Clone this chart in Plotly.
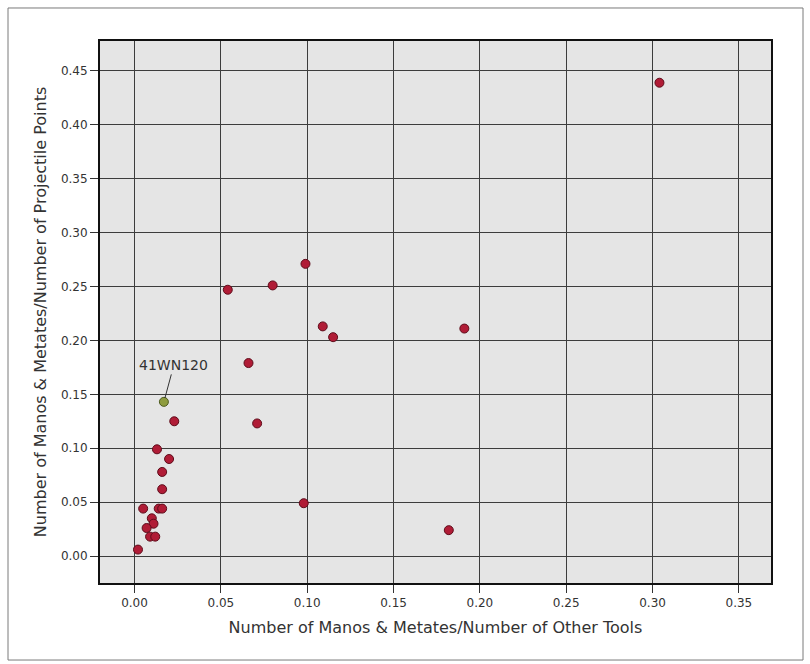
import plotly.graph_objects as go

# Ratios per site: manos & metates / other tools (x) vs / projectile points (y)
other_tools_ratio = [
    0.304, 0.099, 0.054, 0.080, 0.109, 0.115, 0.191, 0.066, 0.071,
    0.098, 0.182, 0.023, 0.013, 0.020, 0.016, 0.016, 0.005, 0.014,
    0.016, 0.010, 0.011, 0.007, 0.009, 0.012, 0.002,
]
projectile_ratio = [
    0.439, 0.271, 0.247, 0.251, 0.213, 0.203, 0.211, 0.179, 0.123,
    0.049, 0.024, 0.125, 0.099, 0.090, 0.078, 0.062, 0.044, 0.044,
    0.044, 0.035, 0.030, 0.026, 0.018, 0.018, 0.006,
]

# Highlighted site
site_label = "41WN120"
site_x = 0.017
site_y = 0.143

x_ticks = [0.00, 0.05, 0.10, 0.15, 0.20, 0.25, 0.30, 0.35]
y_ticks = [0.00, 0.05, 0.10, 0.15, 0.20, 0.25, 0.30, 0.35, 0.40, 0.45]

FONT = "DejaVu Sans"
TEXT = "#333333"

fig = go.Figure()

fig.add_trace(go.Scatter(
    x=other_tools_ratio, y=projectile_ratio, mode="markers",
    marker=dict(size=9, color="#b01c36", line=dict(color="#5e0c1a", width=1)),
    hoverinfo="x+y", showlegend=False,
))

fig.add_trace(go.Scatter(
    x=[site_x], y=[site_y], mode="markers",
    marker=dict(size=9, color="#8e9c3e", line=dict(color="#4c5a1e", width=1)),
    hoverinfo="x+y", showlegend=False,
))

fig.add_annotation(
    x=site_x, y=site_y, text=site_label, showarrow=True,
    arrowhead=0, arrowwidth=1, arrowcolor="#333333",
    ax=10, ay=-37, standoff=4,
    font=dict(family=FONT, size=14, color=TEXT),
)

# Thin frame around the whole figure
fig.add_shape(
    type="rect", xref="paper", yref="paper",
    x0=-0.1371, x1=1.0477, y0=-0.1421, y1=1.0609,
    line=dict(color="#7a7a7a", width=1), fillcolor="rgba(0,0,0,0)",
    layer="below",
)

axis_common = dict(
    showline=True, mirror=True, linecolor="#111111", linewidth=2,
    showgrid=True, gridcolor="#3c3c3c", gridwidth=1,
    zeroline=False,
    ticks="outside", ticklen=8, tickwidth=1, tickcolor="#333333",
    tickfont=dict(family=FONT, size=12, color=TEXT),
    tickformat=".2f",
)

fig.update_xaxes(
    **axis_common,
    range=[-0.020, 0.3686], tickvals=x_ticks,
    title=dict(text="Number of Manos & Metates/Number of Other Tools",
               font=dict(family=FONT, size=16, color=TEXT), standoff=12),
)
fig.update_yaxes(
    **axis_common,
    range=[-0.025, 0.4777], tickvals=y_ticks,
    title=dict(text="Number of Manos & Metates/Number of Projectile Points",
               font=dict(family=FONT, size=16, color=TEXT), standoff=10),
)

fig.update_layout(
    width=810, height=664,
    margin=dict(l=100, r=39, t=41, b=81),
    paper_bgcolor="white", plot_bgcolor="#e5e5e5",
    font=dict(family=FONT, color=TEXT),
)

fig.write_html("out.html")
